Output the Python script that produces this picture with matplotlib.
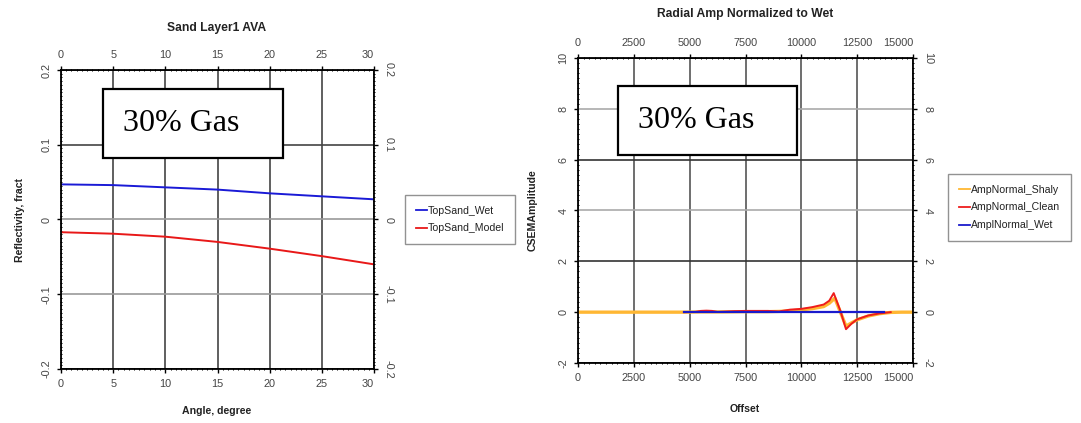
import matplotlib
matplotlib.use("Agg")
import matplotlib.pyplot as plt
from matplotlib.ticker import MultipleLocator, FixedLocator
from matplotlib.patches import Rectangle

plt.rcParams['font.family'] = ['Liberation Sans', 'DejaVu Sans']

# ---------------- data ----------------
angles = [0, 5, 10, 15, 20, 25, 30]
top_sand_wet = [0.047, 0.046, 0.043, 0.040, 0.035, 0.031, 0.027]
top_sand_model = [-0.017, -0.019, -0.023, -0.030, -0.039, -0.049, -0.060]

shaly_offset = [0, 1000, 2000, 3000, 4000, 4750, 5500, 6500, 7500, 8500, 9000, 9500,
                10000, 10500, 11000, 11250, 11500, 11750, 12000, 12250, 12500,
                13000, 13500, 14000, 14500, 15000]
amp_shaly = [0, 0, 0, 0, 0, 0, 0.01, 0.01, 0.02, 0.02, 0.03, 0.05,
             0.09, 0.14, 0.22, 0.35, 0.55, 0.0, -0.55, -0.42, -0.30,
             -0.15, -0.06, -0.01, 0, 0]

clean_offset = [4750, 5250, 5500, 5750, 6000, 6250, 7000, 7500, 8500, 9000, 9500,
                10000, 10500, 11000, 11250, 11450, 11750, 12000, 12250, 12500,
                13000, 13500, 14000]
amp_clean = [0, 0.01, 0.05, 0.06, 0.05, 0.01, 0.04, 0.05, 0.05, 0.03, 0.10,
             0.13, 0.20, 0.30, 0.45, 0.75, 0.05, -0.67, -0.45, -0.28,
             -0.13, -0.05, 0]

wet_offset = [4750, 13700]
amp_wet = [0, 0]

# ---------------- figure ----------------
W, H = 1081, 423
fig = plt.figure(figsize=(W / 100, H / 100), dpi=100)
fig.patch.set_facecolor('white')


def px_axes(l, t, r, b):
    return fig.add_axes([l / W, 1 - b / H, (r - l) / W, (b - t) / H])


ax1 = px_axes(61, 70, 374, 369)
ax2 = px_axes(578, 58, 913, 363)

FS_TICK = 7.8
tick_color = '#444444'


def style_axes(ax, xmaj, xmin, ymaj, ymin, xlim, ylim, hcolors, vcolor):
    ax.set_xlim(*xlim)
    ax.set_ylim(*ylim)
    ax.xaxis.set_major_locator(FixedLocator(xmaj))
    ax.yaxis.set_major_locator(FixedLocator(ymaj))
    ax.xaxis.set_minor_locator(MultipleLocator(xmin))
    ax.yaxis.set_minor_locator(MultipleLocator(ymin))
    ax.tick_params(axis='both', which='major', labelsize=FS_TICK, labelcolor=tick_color,
                   length=3, width=1, direction='out', pad=4,
                   top=True, right=True, labeltop=True, labelright=True)
    ax.tick_params(axis='both', which='minor', length=2, width=0.7, direction='inout',
                   top=True, right=True)
    ax.tick_params(axis='y', which='major', labelrotation=90)
    for t in ax.yaxis.get_major_ticks():
        t.label2.set_rotation(270)
        t.label1.set_va('center')
        t.label2.set_va('center')
    ax.grid(True, which='major', linewidth=1.2)
    for i, gl in enumerate(ax.yaxis.get_gridlines()):
        gl.set_color(hcolors[i % len(hcolors)])
    for gl in ax.xaxis.get_gridlines():
        gl.set_color(vcolor)
    ax.set_axisbelow(True)
    for s in ax.spines.values():
        s.set_linewidth(1.3)
        s.set_color('black')


# ---- left chart ----
ax1.plot(angles, top_sand_wet, color='#1a1ad6', lw=1.4, label='TopSand_Wet')
ax1.plot(angles, top_sand_model, color='#e81818', lw=1.4, label='TopSand_Model')
ymaj1 = [-0.2, -0.1, 0, 0.1, 0.2]
style_axes(ax1, [0, 5, 10, 15, 20, 25, 30], 0.5, ymaj1, 0.005, (0, 30), (-0.2, 0.2),
           ['#000000', '#9a9a9a', '#9a9a9a', '#444444', '#000000'], '#444444')
ax1.set_xticklabels(['0', '5', '10', '15', '20', '25', '30'])
ax1.set_yticklabels(['-0.2', '-0.1', '0', '0.1', '0.2'])
for t in ax1.xaxis.get_major_ticks()[-1:]:
    t.label1.set_ha('right')
    t.label2.set_ha('right')
for t in ax1.yaxis.get_major_ticks():
    t.label1.set_va('center')
    t.label2.set_va('center')

# ---- right chart ----
ax2.plot(shaly_offset, amp_shaly, color='#ffb733', lw=2.4, label='AmpNormal_Shaly')
ax2.plot(clean_offset, amp_clean, color='#ee1c1c', lw=1.4, label='AmpNormal_Clean')
ax2.plot(wet_offset, amp_wet, color='#1a1acc', lw=1.6, label='AmplNormal_Wet')
ymaj2 = [-2, 0, 2, 4, 6, 8, 10]
style_axes(ax2, [0, 2500, 5000, 7500, 10000, 12500, 15000], 250, ymaj2, 0.2,
           (0, 15000), (-2, 10),
           ['#000000', '#9a9a9a', '#333333', '#aaaaaa', '#333333', '#aaaaaa', '#000000'],
           '#555555')
ax2.set_xticklabels(['0', '2500', '5000', '7500', '10000', '12500', '15000'])
ax2.set_yticklabels(['-2', '0', '2', '4', '6', '8', '10'])
for t in ax2.xaxis.get_major_ticks()[-1:]:
    t.label1.set_ha('right')
    t.label2.set_ha('right')
for t in ax2.yaxis.get_major_ticks():
    t.label1.set_va('center')
    t.label2.set_va('center')

# ---- titles & axis labels ----
fig.text(217 / W, 1 - 28 / H, 'Sand Layer1 AVA', ha='center', va='center',
         fontsize=8.7, fontweight='bold', color='#222222')
fig.text(745 / W, 1 - 14 / H, 'Radial Amp Normalized to Wet', ha='center', va='center',
         fontsize=8.7, fontweight='bold', color='#222222')
fig.text(217 / W, 1 - 411 / H, 'Angle, degree', ha='center', va='center',
         fontsize=7.6, fontweight='bold', color='#222222')
fig.text(745 / W, 1 - 409 / H, 'Offset', ha='center', va='center',
         fontsize=7.6, fontweight='bold', color='#222222')
fig.text(20 / W, 1 - 220 / H, 'Reflectivity, fract', ha='center', va='center',
         rotation=90, fontsize=7.6, fontweight='bold', color='#222222')
fig.text(533 / W, 1 - 210 / H, 'CSEMAmplitude', ha='center', va='center',
         rotation=90, fontsize=7.6, fontweight='bold', color='#222222')

# ---- legends ----
leg_kw = dict(loc='upper left', fontsize=7.6, frameon=True, fancybox=False,
              handlelength=1.1, handletextpad=0.1, borderaxespad=0,
              labelspacing=0.75, borderpad=1.0, edgecolor='#777777')
l1 = ax1.legend(bbox_to_anchor=(405 / W, 1 - 195 / H),
                bbox_transform=fig.transFigure, **leg_kw)
l2 = ax2.legend(bbox_to_anchor=(948 / W, 1 - 174 / H),
                bbox_transform=fig.transFigure, **leg_kw)
for lg in (l1, l2):
    lg.get_frame().set_linewidth(1.0)
    for txt in lg.get_texts():
        txt.set_color('#222222')
    for ln in lg.get_lines():
        ln.set_linewidth(1.3)

# ---- "30% Gas" boxes ----
for (l, t, r, b) in [(103, 89, 283, 158), (618, 86, 797, 155)]:
    rect = Rectangle((l / W, 1 - b / H), (r - l) / W, (b - t) / H,
                     transform=fig.transFigure, facecolor='white',
                     edgecolor='black', linewidth=1.6, zorder=10)
    fig.add_artist(rect)
    fig.text((l + 20) / W, 1 - (t + b) / 2 / H, '30% Gas', ha='left', va='center',
             fontsize=23, family=['Liberation Serif', 'DejaVu Serif'], zorder=11)

fig.savefig('out.png', dpi=100, facecolor='white')
